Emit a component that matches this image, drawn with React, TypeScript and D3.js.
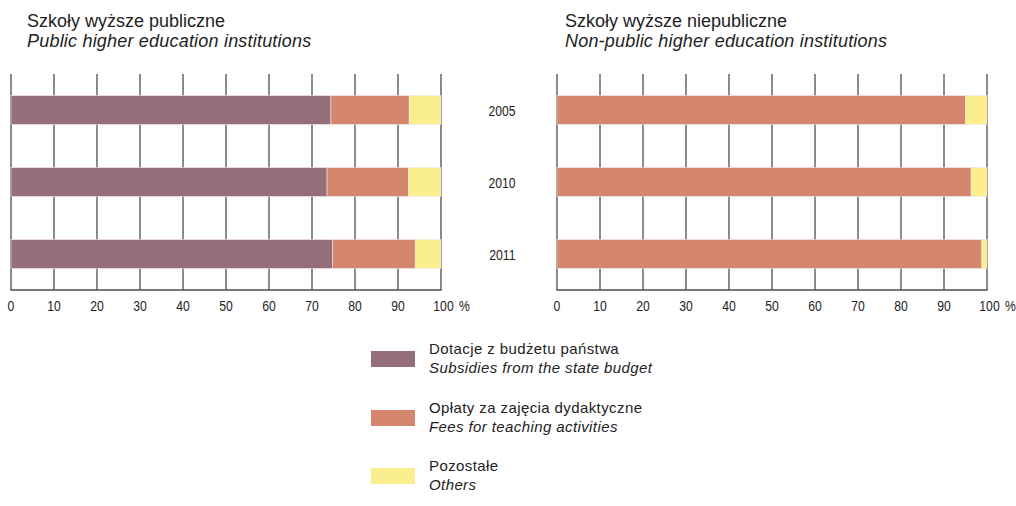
import * as d3 from "d3";

const years = ["2005", "2010", "2011"];
const ticks = [0, 10, 20, 30, 40, 50, 60, 70, 80, 90, 100];

// shares in %
const publicSubsidies = [74.4, 73.5, 74.8];
const publicFees = [18.2, 18.9, 19.2];
const publicOthers = [7.4, 7.6, 6.0];

const nonPublicSubsidies = [0, 0, 0];
const nonPublicFees = [95.0, 96.3, 98.8];
const nonPublicOthers = [5.0, 3.7, 1.2];

const seriesColors = ["#946e78", "#d4876c", "#faee8e"];
const legendPl = ["Dotacje z budżetu państwa", "Opłaty za zajęcia dydaktyczne", "Pozostałe"];
const legendEn = ["Subsidies from the state budget", "Fees for teaching activities", "Others"];

const font = "'Liberation Sans', Arial, sans-serif";

// condensed-looking label (the original uses a narrow face)
const Narrow = ({ x, y, anchor, children }: { x: number; y: number; anchor: string; children: any }) => (
  <text
    transform={`translate(${x},${y}) scale(0.84,1)`}
    textAnchor={anchor}
    fontFamily={font}
    fontSize={14.5}
    fill="#222"
  >
    {children}
  </text>
);

type PanelProps = {
  x0: number;
  x1: number;
  titlePl: string;
  titleEn: string;
  titleX: number;
  series: number[][];
  showYears: boolean;
};

const Panel = ({ x0, x1, titlePl, titleEn, titleX, series, showYears }: PanelProps) => {
  const top = 74;
  const bottom = 290;
  const x = d3.scaleLinear().domain([0, 100]).range([x0, x1]);
  const y = d3.scaleBand().domain(years).range([top, bottom]).paddingInner(0.6).paddingOuter(0.3);

  const stacked = years.map((yr, i) => {
    let acc = 0;
    return series.map((s, k) => {
      const start = acc;
      acc += s[i];
      return { yr, k, start, end: acc };
    });
  });

  return (
    <g>
      <text x={titleX} y={27} fontFamily={font} fontSize={18} fill="#222">
        {titlePl}
      </text>
      <text x={titleX} y={47} fontFamily={font} fontSize={18} fontStyle="italic" letterSpacing={0.2} fill="#222">
        {titleEn}
      </text>

      {ticks.map((t) => (
        <line key={t} x1={x(t)} x2={x(t)} y1={top} y2={bottom} stroke="#4d4d4d" strokeWidth={1.3} />
      ))}
      <line x1={x0 - 0.5} x2={x1 + 0.5} y1={bottom} y2={bottom} stroke="#4d4d4d" strokeWidth={1.3} />

      {stacked.map((row) =>
        row
          .filter((d) => d.end > d.start)
          .map((d) => (
            <rect
              key={d.yr + d.k}
              x={x(d.start)}
              y={y(d.yr)}
              width={x(d.end) - x(d.start)}
              height={y.bandwidth()}
              fill={seriesColors[d.k]}
              stroke="#f3e3df"
              strokeWidth={0.6}
            />
          )),
      )}

      {ticks.map((t) => (
        <Narrow key={t} x={x(t) + (t === 100 ? 2.5 : 0)} y={311} anchor="middle">
          {t}
        </Narrow>
      ))}
      <Narrow x={x(100) + 18} y={311} anchor="start">
        %
      </Narrow>

      {showYears &&
        years.map((yr) => (
          <Narrow key={yr} x={515.5} y={(y(yr) ?? 0) + y.bandwidth() / 2 + 5.5} anchor="end">
            {yr}
          </Narrow>
        ))}
    </g>
  );
};

const App = () => {
  const legendY = [351, 410, 468];
  return (
    <svg width={1016} height={506} style={{ position: "absolute", left: 0, top: 0, background: "#fff" }}>
      <Panel
        x0={11}
        x1={441}
        titlePl="Szkoły wyższe publiczne"
        titleEn="Public higher education institutions"
        titleX={27}
        series={[publicSubsidies, publicFees, publicOthers]}
        showYears={false}
      />
      <Panel
        x0={557}
        x1={987}
        titlePl="Szkoły wyższe niepubliczne"
        titleEn="Non-public higher education institutions"
        titleX={565}
        series={[nonPublicSubsidies, nonPublicFees, nonPublicOthers]}
        showYears={true}
      />

      {legendPl.map((label, i) => (
        <g key={label}>
          <rect x={371} y={legendY[i]} width={44} height={16} fill={seriesColors[i]} />
          <text x={429} y={legendY[i] + 2.5} fontFamily={font} fontSize={15} letterSpacing={0.4} fill="#222">
            {label}
          </text>
          <text
            x={429}
            y={legendY[i] + 21.5}
            fontFamily={font}
            fontSize={15}
            fontStyle="italic"
            letterSpacing={0.4}
            fill="#222"
          >
            {legendEn[i]}
          </text>
        </g>
      ))}
    </svg>
  );
};

export default App;
